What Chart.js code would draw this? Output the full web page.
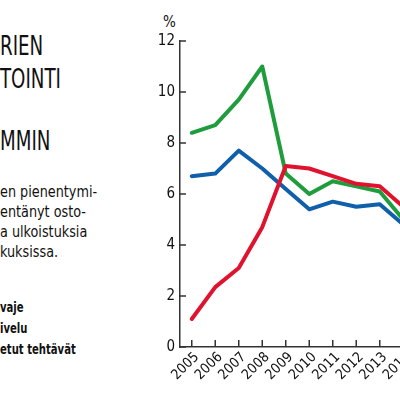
<!DOCTYPE html>
<html>
<head>
<meta charset="utf-8">
<script src="https://cdn.jsdelivr.net/npm/chart.js@4"></script>
<style>
  html, body { margin:0; padding:0; width:400px; height:400px; overflow:hidden; background:#fff; }
  body { position:relative; font-family:'DejaVu Sans Condensed',sans-serif; color:#111; }
  .t { position:absolute; left:0; white-space:nowrap; transform-origin:0 0; }
  .otsikko { font-size:27px; line-height:32px; transform:scaleX(0.75); font-weight:300; }
  .leipa { font-size:15px; line-height:20px; transform:scaleX(0.95); }
  .selite { font-size:14px; line-height:20px; font-weight:bold; transform:scaleX(0.8); }
  .pros { position:absolute; left:163px; top:12px; font-size:15px; line-height:20px; }
  #kehys { position:absolute; left:130px; top:0; width:300px; height:400px; }
</style>
</head>
<body>
<div class="t otsikko" style="top:30px">RIEN</div>
<div class="t otsikko" style="top:63px">TOINTI</div>
<div class="t otsikko" style="top:125px">MMIN</div>

<div class="t leipa" style="top:182px">en pienentymi-</div>
<div class="t leipa" style="top:202px">entänyt osto-</div>
<div class="t leipa" style="top:222px">a ulkoistuksia</div>
<div class="t leipa" style="top:242px">kuksissa.</div>

<div class="t selite" style="top:297px">vaje</div>
<div class="t selite" style="top:318px">ivelu</div>
<div class="t selite" style="top:339px">etut tehtävät</div>

<div class="pros">%</div>
<div id="kehys"><canvas id="kaavio"></canvas></div>

<script>
// Data
const vuodet = ['2005','2006','2007','2008','2009','2010','2011','2012','2013','2014'];
const vihrea = [8.4, 8.7, 9.7, 11.0, 6.8, 6.0, 6.5, 6.3, 6.1, 5.0];
const punainen = [1.1, 2.35, 3.1, 4.7, 7.1, 7.0, 6.7, 6.4, 6.3, 5.5];
const sininen = [6.7, 6.8, 7.7, 7.0, 6.2, 5.4, 5.7, 5.5, 5.6, 4.8];
const yTikit = [0, 2, 4, 6, 8, 10, 12];

const fontti = "'DejaVu Sans Condensed',sans-serif";
const akseliVari = '#333';

// Sisäänpäin piirretyt tikkimerkit
const sisaTikit = {
  id: 'sisaTikit',
  afterDraw(chart){
    const ctx = chart.ctx;
    const x = chart.scales.x, y = chart.scales.y;
    ctx.save();
    ctx.strokeStyle = akseliVari;
    ctx.lineWidth = 1.5;
    ctx.beginPath();
    yTikit.forEach(v => {
      const py = y.getPixelForValue(v);
      ctx.moveTo(x.left, py); ctx.lineTo(x.left + 6, py);
    });
    vuodet.forEach((v, i) => {
      const px = x.getPixelForValue(i);
      ctx.moveTo(px, y.bottom); ctx.lineTo(px, y.bottom - 7);
    });
    ctx.stroke();
    ctx.restore();
  }
};

const sarja = (data, vari, order) => ({
  data: data,
  borderColor: vari,
  borderWidth: 4,
  pointRadius: 0,
  tension: 0,
  borderJoinStyle: 'round',
  borderCapStyle: 'round',
  order: order
});

new Chart(document.getElementById('kaavio'), {
  type: 'line',
  data: {
    labels: vuodet,
    datasets: [
      sarja(punainen, '#e0132f', 0),
      sarja(vihrea, '#1f9d3d', 1),
      sarja(sininen, '#0f5fab', 2)
    ]
  },
  options: {
    responsive: true,
    maintainAspectRatio: false,
    animation: false,
    layout: { padding: { top: 41, right: 15, bottom: 8, left: 0 } },
    plugins: { legend: { display: false }, tooltip: { enabled: false } },
    scales: {
      x: {
        offset: true,
        grid: { display: false, drawTicks: false },
        border: { color: akseliVari, width: 1.5 },
        ticks: {
          color: '#111', font: { family: fontti, size: 14 },
          maxRotation: 45, minRotation: 45, autoSkip: false,
          padding: 2, labelOffset: 5
        },
        afterFit(s){ s.height = 45; }
      },
      y: {
        min: 0, max: 12,
        grid: { display: false, drawTicks: false },
        border: { color: akseliVari, width: 1.5 },
        ticks: {
          stepSize: 2, color: '#111', font: { family: fontti, size: 15 }, padding: 5
        },
        afterFit(s){ s.width = 50; }
      }
    }
  },
  plugins: [sisaTikit]
});
</script>
</body>
</html>
